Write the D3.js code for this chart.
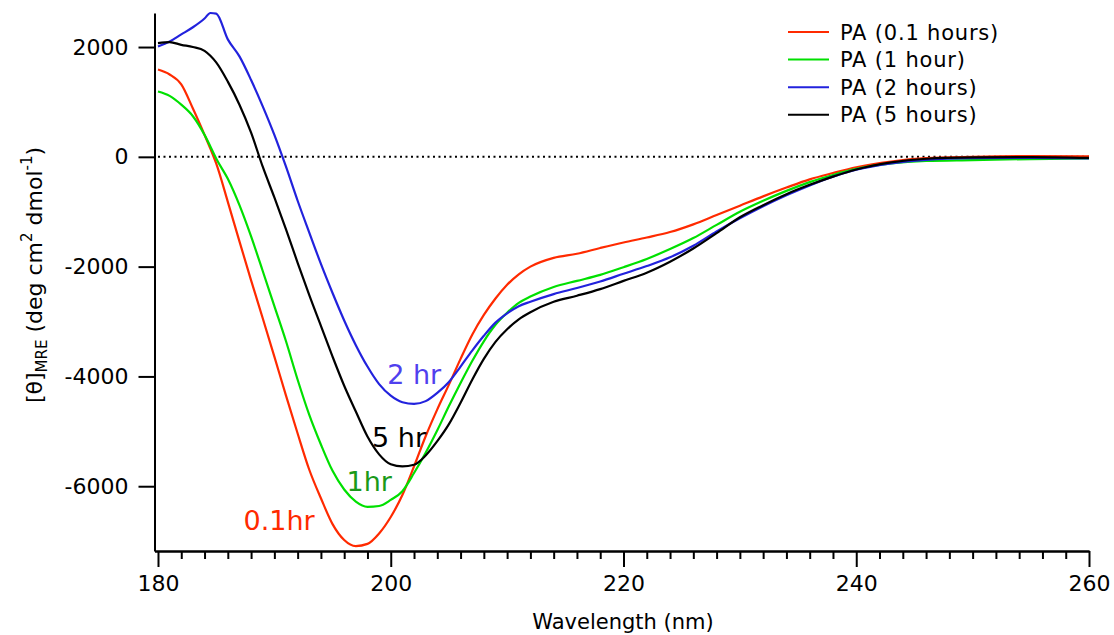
<!DOCTYPE html>
<html>
<head>
<meta charset="utf-8">
<script src="https://cdn.jsdelivr.net/npm/d3@7"></script>
<style>
  html, body { margin: 0; padding: 0; background: #fff; }
  svg { display: block; font-family: "DejaVu Sans", sans-serif; }
  .axis path, .axis line { stroke: #000; stroke-width: 2; }
  .axis text { font-size: 22px; fill: #000; font-family: "DejaVu Sans", sans-serif; }
  .curve { fill: none; stroke-width: 2.2; stroke-linejoin: round; }
</style>
</head>
<body>
<svg id="chart" width="1114" height="635"></svg>
<script>
// CD spectra of PA at four incubation times.
const wavelengths = [180, 181, 182, 183, 184, 184.5, 185, 186, 187, 188, 189, 190, 191, 192, 193, 194,
  195, 196, 197, 198, 199, 200, 201, 202, 203, 204, 205, 206, 207, 208, 209, 210, 211, 212,
  214, 216, 218, 220, 222, 224, 226, 228, 230, 232, 234, 236, 238, 240, 243, 246, 250, 255, 260];

const pa01 = [1590, 1500, 1320, 880, 400, 150, -120, -820, -1540, -2250, -2940, -3640, -4350, -5040,
  -5700, -6220, -6690, -6980, -7090, -7050, -6860, -6560, -6160, -5640, -5090, -4600, -4150, -3680,
  -3240, -2880, -2580, -2330, -2140, -2000, -1840, -1765, -1660, -1560, -1470, -1370, -1230, -1060,
  -890, -720, -560, -410, -295, -190, -85, -25, 0, 15, 10];

const pa1 = [1190, 1110, 950, 740, 400, 190, -30, -400, -880, -1450, -2080, -2720, -3360, -4060,
  -4700, -5240, -5720, -6060, -6280, -6375, -6360, -6250, -6090, -5760, -5390, -4980, -4540, -4120,
  -3720, -3360, -3060, -2840, -2660, -2545, -2370, -2260, -2150, -2010, -1860, -1680, -1480, -1240,
  -1000, -800, -620, -460, -330, -220, -120, -75, -60, -40, -30];

const pa2 = [2010, 2100, 2230, 2360, 2520, 2620, 2610, 2140, 1830, 1400, 920, 400, -180, -800,
  -1380, -1950, -2480, -2980, -3430, -3820, -4140, -4350, -4470, -4500, -4450, -4300, -4100, -3820,
  -3530, -3260, -3020, -2850, -2720, -2640, -2500, -2390, -2270, -2130, -1990, -1830, -1620, -1360,
  -1120, -900, -700, -520, -360, -235, -120, -55, -25, -20, -30];

const pa5 = [2071, 2090, 2040, 2000, 1930, 1840, 1720, 1370, 950, 440, -180, -740, -1320, -1930,
  -2520, -3080, -3640, -4170, -4640, -5095, -5420, -5600, -5640, -5610, -5440, -5180, -4870, -4480,
  -4060, -3680, -3370, -3140, -2960, -2830, -2640, -2530, -2410, -2260, -2110, -1910, -1670, -1390,
  -1100, -880, -680, -510, -360, -230, -100, -35, -10, -5, -20];

const seriesNames = ["PA (0.1 hours)", "PA (1 hour)", "PA (2 hours)", "PA (5 hours)"];
const seriesValues = [pa01, pa1, pa2, pa5];
const seriesColors = ["#ff2a00", "#00e000", "#2222dd", "#000000"];

// in-plot annotations: text, anchor wavelength, anchor value
const curveLabels = ["0.1hr", "1hr", "5 hr", "2 hr"];
const curveLabelNm = [187.35, 196.2, 198.4, 199.7];
const curveLabelVal = [-6806, -6096, -5277, -4140];
const curveLabelColors = ["#ff2a00", "#1a9a1a", "#000000", "#5040ee"];

const xMajor = [180, 200, 220, 240, 260];
const yMajor = [-6000, -4000, -2000, 0, 2000];

const svg = d3.select("#chart");

const x = d3.scaleLinear().domain([179.7, 260]).range([154.5, 1089]);
const y = d3.scaleLinear().domain([-7180, 2620]).range([551, 13]);

// zero line
svg.append("line")
  .attr("x1", x(180)).attr("x2", x(260))
  .attr("y1", y(0)).attr("y2", y(0))
  .attr("stroke", "#000").attr("stroke-width", 2)
  .attr("stroke-dasharray", "2,3.5");

// curves
const line = d3.line()
  .x((d, i) => x(wavelengths[i]))
  .y(d => y(d))
  .curve(d3.curveMonotoneX);

svg.append("g").selectAll("path")
  .data(seriesValues).join("path")
  .attr("class", "curve")
  .attr("stroke", (d, i) => seriesColors[i])
  .attr("d", line);

// x axis: minor ticks every 2 nm, majors every 20
const minorTicks = d3.range(180, 261, 2).filter(v => !xMajor.includes(v));
svg.append("g").attr("class", "axis")
  .attr("transform", `translate(0,${y.range()[0]})`)
  .call(d3.axisBottom(x).tickValues(minorTicks).tickSize(8).tickSizeOuter(0).tickFormat(""));
svg.append("g").attr("class", "axis")
  .attr("transform", `translate(0,${y.range()[0]})`)
  .call(d3.axisBottom(x).tickValues(xMajor).tickSize(16).tickSizeOuter(0).tickPadding(8)
    .tickFormat(d => String(d)));

// y axis
svg.append("g").attr("class", "axis")
  .attr("transform", `translate(${x.range()[0]},0)`)
  .call(d3.axisLeft(y).tickValues(yMajor).tickSize(16).tickSizeOuter(0).tickPadding(10)
    .tickFormat(d => String(d)));

// axis titles
svg.append("text")
  .attr("x", 623).attr("y", 629)
  .attr("text-anchor", "middle")
  .attr("font-size", 21)
  .text("Wavelength (nm)");

const yt = svg.append("text")
  .attr("transform", "translate(42,275) rotate(-90)")
  .attr("text-anchor", "middle")
  .attr("font-size", 22);
yt.append("tspan").text("[θ]");
yt.append("tspan").attr("font-size", 15).attr("dy", 5).text("MRE");
yt.append("tspan").attr("dy", -5).text(" (deg cm");
yt.append("tspan").attr("font-size", 15).attr("dy", -10).text("2");
yt.append("tspan").attr("dy", 10).text(" dmol");
yt.append("tspan").attr("font-size", 15).attr("dy", -10).text("-1");
yt.append("tspan").attr("dy", 10).text(")");

// curve annotations
svg.append("g").selectAll("text")
  .data(curveLabels).join("text")
  .attr("x", (d, i) => x(curveLabelNm[i]))
  .attr("y", (d, i) => y(curveLabelVal[i]))
  .attr("font-size", 27)
  .attr("fill", (d, i) => curveLabelColors[i])
  .text(d => d);

// legend
const legend = svg.append("g").attr("transform", "translate(788,32)");
const rows = legend.selectAll("g").data(seriesNames).join("g")
  .attr("transform", (d, i) => `translate(0,${i * 27.6})`);
rows.append("line")
  .attr("x1", 0).attr("x2", 41).attr("y1", 0).attr("y2", 0)
  .attr("stroke-width", 2)
  .attr("stroke", (d, i) => seriesColors[i]);
rows.append("text")
  .attr("x", 52).attr("y", 7.5)
  .attr("font-size", 21)
  .attr("letter-spacing", 0.8)
  .text(d => d);
</script>
</body>
</html>
